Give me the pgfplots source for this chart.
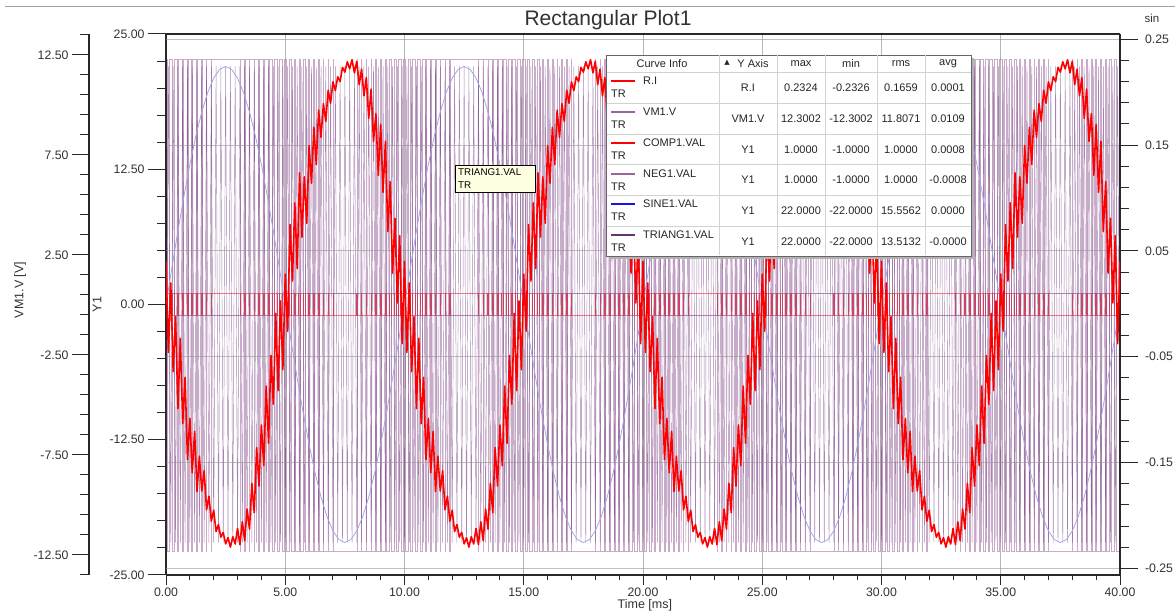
\documentclass[border=0pt]{standalone}
\usepackage{fontspec}
\setmainfont{Liberation Sans}
\newfontfamily\symbolfont{DejaVu Sans}
\usepackage{pgfplots}
\usepackage{pgfplotstable}
\pgfplotsset{compat=1.18}

\definecolor{curveRed}{RGB}{255,0,0}
\definecolor{vmMauve}{RGB}{156,100,156}
\definecolor{triPurple}{RGB}{104,52,120}
\definecolor{sineBlue}{RGB}{165,165,235}
\definecolor{compRed}{RGB}{225,40,60}
\definecolor{axisDark}{RGB}{40,40,40}
\definecolor{labelGray}{RGB}{50,50,50}
\definecolor{gridGray}{RGB}{150,150,150}
\definecolor{tipYellow}{RGB}{255,255,225}
\definecolor{legBlue}{RGB}{20,20,235}
\definecolor{legPurple}{RGB}{100,50,120}

% PWM edges: t, VM1.V, COMP1.VAL, NEG1.VAL (held until the next row)
\pgfplotstableread{
t vm comp neg
0.000 12.3 1 -1
0.050 -12.3 -1 1
0.144 12.3 1 -1
0.256 -12.3 -1 1
0.338 12.3 1 -1
0.462 -12.3 -1 1
0.532 12.3 1 -1
0.668 -12.3 -1 1
0.726 12.3 1 -1
0.874 -12.3 -1 1
0.921 12.3 1 -1
1.079 -12.3 -1 1
1.116 12.3 1 -1
1.284 -12.3 -1 1
1.311 12.3 1 -1
1.489 -12.3 -1 1
1.508 12.3 1 -1
1.692 -12.3 -1 1
1.705 12.3 1 -1
1.895 -12.3 -1 1
1.902 12.3 1 -1
3.098 -12.3 -1 1
3.105 12.3 1 -1
3.295 -12.3 -1 1
3.308 12.3 1 -1
3.492 -12.3 -1 1
3.511 12.3 1 -1
3.689 -12.3 -1 1
3.716 12.3 1 -1
3.884 -12.3 -1 1
3.921 12.3 1 -1
4.079 -12.3 -1 1
4.126 12.3 1 -1
4.274 -12.3 -1 1
4.332 12.3 1 -1
4.468 -12.3 -1 1
4.538 12.3 1 -1
4.662 -12.3 -1 1
4.744 12.3 1 -1
4.856 -12.3 -1 1
4.950 12.3 1 -1
5.050 -12.3 -1 1
5.156 12.3 1 -1
5.244 -12.3 -1 1
5.362 12.3 1 -1
5.438 -12.3 -1 1
5.568 12.3 1 -1
5.632 -12.3 -1 1
5.774 12.3 1 -1
5.826 -12.3 -1 1
5.979 12.3 1 -1
6.021 -12.3 -1 1
6.184 12.3 1 -1
6.216 -12.3 -1 1
6.389 12.3 1 -1
6.411 -12.3 -1 1
6.592 12.3 1 -1
6.608 -12.3 -1 1
6.795 12.3 1 -1
6.805 -12.3 -1 1
6.998 12.3 1 -1
7.002 -12.3 -1 1
7.998 12.3 1 -1
8.002 -12.3 -1 1
8.195 12.3 1 -1
8.205 -12.3 -1 1
8.392 12.3 1 -1
8.408 -12.3 -1 1
8.589 12.3 1 -1
8.611 -12.3 -1 1
8.784 12.3 1 -1
8.816 -12.3 -1 1
8.979 12.3 1 -1
9.021 -12.3 -1 1
9.174 12.3 1 -1
9.226 -12.3 -1 1
9.368 12.3 1 -1
9.432 -12.3 -1 1
9.562 12.3 1 -1
9.638 -12.3 -1 1
9.756 12.3 1 -1
9.844 -12.3 -1 1
9.950 12.3 1 -1
10.050 -12.3 -1 1
10.144 12.3 1 -1
10.256 -12.3 -1 1
10.338 12.3 1 -1
10.462 -12.3 -1 1
10.532 12.3 1 -1
10.668 -12.3 -1 1
10.726 12.3 1 -1
10.874 -12.3 -1 1
10.921 12.3 1 -1
11.079 -12.3 -1 1
11.116 12.3 1 -1
11.284 -12.3 -1 1
11.311 12.3 1 -1
11.489 -12.3 -1 1
11.508 12.3 1 -1
11.692 -12.3 -1 1
11.705 12.3 1 -1
11.895 -12.3 -1 1
11.902 12.3 1 -1
13.098 -12.3 -1 1
13.105 12.3 1 -1
13.295 -12.3 -1 1
13.308 12.3 1 -1
13.492 -12.3 -1 1
13.511 12.3 1 -1
13.689 -12.3 -1 1
13.716 12.3 1 -1
13.884 -12.3 -1 1
13.921 12.3 1 -1
14.079 -12.3 -1 1
14.126 12.3 1 -1
14.274 -12.3 -1 1
14.332 12.3 1 -1
14.468 -12.3 -1 1
14.538 12.3 1 -1
14.662 -12.3 -1 1
14.744 12.3 1 -1
14.856 -12.3 -1 1
14.950 12.3 1 -1
15.050 -12.3 -1 1
15.156 12.3 1 -1
15.244 -12.3 -1 1
15.362 12.3 1 -1
15.438 -12.3 -1 1
15.568 12.3 1 -1
15.632 -12.3 -1 1
15.774 12.3 1 -1
15.826 -12.3 -1 1
15.979 12.3 1 -1
16.021 -12.3 -1 1
16.184 12.3 1 -1
16.216 -12.3 -1 1
16.389 12.3 1 -1
16.411 -12.3 -1 1
16.592 12.3 1 -1
16.608 -12.3 -1 1
16.795 12.3 1 -1
16.805 -12.3 -1 1
16.998 12.3 1 -1
17.002 -12.3 -1 1
17.998 12.3 1 -1
18.002 -12.3 -1 1
18.195 12.3 1 -1
18.205 -12.3 -1 1
18.392 12.3 1 -1
18.408 -12.3 -1 1
18.589 12.3 1 -1
18.611 -12.3 -1 1
18.784 12.3 1 -1
18.816 -12.3 -1 1
18.979 12.3 1 -1
19.021 -12.3 -1 1
19.174 12.3 1 -1
19.226 -12.3 -1 1
19.368 12.3 1 -1
19.432 -12.3 -1 1
19.562 12.3 1 -1
19.638 -12.3 -1 1
19.756 12.3 1 -1
19.844 -12.3 -1 1
19.950 12.3 1 -1
20.050 -12.3 -1 1
20.144 12.3 1 -1
20.256 -12.3 -1 1
20.338 12.3 1 -1
20.462 -12.3 -1 1
20.532 12.3 1 -1
20.668 -12.3 -1 1
20.726 12.3 1 -1
20.874 -12.3 -1 1
20.921 12.3 1 -1
21.079 -12.3 -1 1
21.116 12.3 1 -1
21.284 -12.3 -1 1
21.311 12.3 1 -1
21.489 -12.3 -1 1
21.508 12.3 1 -1
21.692 -12.3 -1 1
21.705 12.3 1 -1
21.895 -12.3 -1 1
21.902 12.3 1 -1
23.098 -12.3 -1 1
23.105 12.3 1 -1
23.295 -12.3 -1 1
23.308 12.3 1 -1
23.492 -12.3 -1 1
23.511 12.3 1 -1
23.689 -12.3 -1 1
23.716 12.3 1 -1
23.884 -12.3 -1 1
23.921 12.3 1 -1
24.079 -12.3 -1 1
24.126 12.3 1 -1
24.274 -12.3 -1 1
24.332 12.3 1 -1
24.468 -12.3 -1 1
24.538 12.3 1 -1
24.662 -12.3 -1 1
24.744 12.3 1 -1
24.856 -12.3 -1 1
24.950 12.3 1 -1
25.050 -12.3 -1 1
25.156 12.3 1 -1
25.244 -12.3 -1 1
25.362 12.3 1 -1
25.438 -12.3 -1 1
25.568 12.3 1 -1
25.632 -12.3 -1 1
25.774 12.3 1 -1
25.826 -12.3 -1 1
25.979 12.3 1 -1
26.021 -12.3 -1 1
26.184 12.3 1 -1
26.216 -12.3 -1 1
26.389 12.3 1 -1
26.411 -12.3 -1 1
26.592 12.3 1 -1
26.608 -12.3 -1 1
26.795 12.3 1 -1
26.805 -12.3 -1 1
26.998 12.3 1 -1
27.002 -12.3 -1 1
27.998 12.3 1 -1
28.002 -12.3 -1 1
28.195 12.3 1 -1
28.205 -12.3 -1 1
28.392 12.3 1 -1
28.408 -12.3 -1 1
28.589 12.3 1 -1
28.611 -12.3 -1 1
28.784 12.3 1 -1
28.816 -12.3 -1 1
28.979 12.3 1 -1
29.021 -12.3 -1 1
29.174 12.3 1 -1
29.226 -12.3 -1 1
29.368 12.3 1 -1
29.432 -12.3 -1 1
29.562 12.3 1 -1
29.638 -12.3 -1 1
29.756 12.3 1 -1
29.844 -12.3 -1 1
29.950 12.3 1 -1
30.050 -12.3 -1 1
30.144 12.3 1 -1
30.256 -12.3 -1 1
30.338 12.3 1 -1
30.462 -12.3 -1 1
30.532 12.3 1 -1
30.668 -12.3 -1 1
30.726 12.3 1 -1
30.874 -12.3 -1 1
30.921 12.3 1 -1
31.079 -12.3 -1 1
31.116 12.3 1 -1
31.284 -12.3 -1 1
31.311 12.3 1 -1
31.489 -12.3 -1 1
31.508 12.3 1 -1
31.692 -12.3 -1 1
31.705 12.3 1 -1
31.895 -12.3 -1 1
31.902 12.3 1 -1
33.098 -12.3 -1 1
33.105 12.3 1 -1
33.295 -12.3 -1 1
33.308 12.3 1 -1
33.492 -12.3 -1 1
33.511 12.3 1 -1
33.689 -12.3 -1 1
33.716 12.3 1 -1
33.884 -12.3 -1 1
33.921 12.3 1 -1
34.079 -12.3 -1 1
34.126 12.3 1 -1
34.274 -12.3 -1 1
34.332 12.3 1 -1
34.468 -12.3 -1 1
34.538 12.3 1 -1
34.662 -12.3 -1 1
34.744 12.3 1 -1
34.856 -12.3 -1 1
34.950 12.3 1 -1
35.050 -12.3 -1 1
35.156 12.3 1 -1
35.244 -12.3 -1 1
35.362 12.3 1 -1
35.438 -12.3 -1 1
35.568 12.3 1 -1
35.632 -12.3 -1 1
35.774 12.3 1 -1
35.826 -12.3 -1 1
35.979 12.3 1 -1
36.021 -12.3 -1 1
36.184 12.3 1 -1
36.216 -12.3 -1 1
36.389 12.3 1 -1
36.411 -12.3 -1 1
36.592 12.3 1 -1
36.608 -12.3 -1 1
36.795 12.3 1 -1
36.805 -12.3 -1 1
36.998 12.3 1 -1
37.002 -12.3 -1 1
37.998 12.3 1 -1
38.002 -12.3 -1 1
38.195 12.3 1 -1
38.205 -12.3 -1 1
38.392 12.3 1 -1
38.408 -12.3 -1 1
38.589 12.3 1 -1
38.611 -12.3 -1 1
38.784 12.3 1 -1
38.816 -12.3 -1 1
38.979 12.3 1 -1
39.021 -12.3 -1 1
39.174 12.3 1 -1
39.226 -12.3 -1 1
39.368 12.3 1 -1
39.432 -12.3 -1 1
39.562 12.3 1 -1
39.638 -12.3 -1 1
39.756 12.3 1 -1
39.844 -12.3 -1 1
39.950 12.3 1 -1
40.000 12.3 1 -1
}\pwmtable

\tikzset{axislabel/.style={font=\fontsize{12.5}{14}\selectfont, text=labelGray}}

\pgfplotsset{
  plotframe/.style={
    scale only axis, width=954pt, height=541pt,
    at={(166pt,37pt)}, anchor=south west,
    xmin=0, xmax=40, clip=true,
    tick align=outside,
    axis line style={axisDark, line width=1.1pt},
    tick style={axisDark, line width=1pt},
    tick label style={font=\fontsize{12.3}{14}\selectfont, text=labelGray},
  },
}

\newcommand{\legrow}[8]{%
  \draw[#2, line width=2pt] (611,#1+9.5) -- (635,#1+9.5);
  \node[anchor=west, inner sep=0] at (643,#1+9) {#3};
  \node[anchor=west, inner sep=0] at (611,#1+22) {TR};
  \node at (748,#1+15.5) {#4};
  \node at (801,#1+15.5) {#5};
  \node at (851,#1+15.5) {#6};
  \node at (901,#1+15.5) {#7};
  \node at (948,#1+15.5) {#8};
}

\begin{document}
\begin{tikzpicture}
\path[use as bounding box] (0,0) rectangle (1175pt,612pt);
\clip (0,0) rectangle (1175pt,612pt);

% time axis with vertical grid
\begin{axis}[plotframe, ymin=0, ymax=1,
  axis x line*=bottom, axis y line=none,
  xtick={0,5,...,40},
  xticklabels={0.00,5.00,10.00,15.00,20.00,25.00,30.00,35.00,40.00},
  xticklabel style={yshift=1pt},
  minor x tick num=4,
  major tick length=10pt, minor tick length=5pt,
  xmajorgrids, major grid style={gridGray!70, line width=0.8pt},
  xlabel={Time [ms]},
  every axis x label/.style={axislabel, at={(axis description cs:0.502,0)}, anchor=center, yshift=-30.5pt},
]
\end{axis}

% VM1.V on its own scale
\begin{axis}[plotframe, ymin=-13.5, ymax=13.55,
  axis x line=none, axis y line*=left, axis y line shift=77pt,
  ytick={-12.5,-7.5,-2.5,2.5,7.5,12.5},
  yticklabels={-12.50,-7.50,-2.50,2.50,7.50,12.50},
  minor ytick={-13.5,-11.5,-10.5,-9.5,-8.5,-6.5,-5.5,-4.5,-3.5,-1.5,-0.5,0.5,1.5,3.5,4.5,5.5,6.5,8.5,9.5,10.5,11.5,13.5},
  major tick length=17pt, minor tick length=9pt,
  ylabel={VM1.V [V]},
  every axis y label/.style={axislabel, at={(axis description cs:-0.153,0.527)}, rotate=90, anchor=center},
]
\addplot[const plot, vmMauve, line width=0.5pt, opacity=0.55] table[x=t, y=vm] {\pwmtable};
\end{axis}

% Y1 quantities
\begin{axis}[plotframe, ymin=-25, ymax=25,
  axis x line=none, axis y line*=left,
  ytick={-25,-12.5,0,12.5,25},
  yticklabels={-25.00,-12.50,0.00,12.50,25.00},
  minor y tick num=4,
  major tick length=18pt, minor tick length=9pt,
  ylabel={Y1},
  every axis y label/.style={axislabel, at={(axis description cs:-0.0723,0.5)}, rotate=90, anchor=center},
]
% TRIANG1.VAL
\addplot[triPurple, line width=0.45pt, opacity=0.6] coordinates {
(0,-22)(0.1,22)(0.2,-22)(0.3,22)(0.4,-22)(0.5,22)(0.6,-22)(0.7,22)(0.8,-22)(0.9,22)
(1,-22)(1.1,22)(1.2,-22)(1.3,22)(1.4,-22)(1.5,22)(1.6,-22)(1.7,22)(1.8,-22)(1.9,22)
(2,-22)(2.1,22)(2.2,-22)(2.3,22)(2.4,-22)(2.5,22)(2.6,-22)(2.7,22)(2.8,-22)(2.9,22)
(3,-22)(3.1,22)(3.2,-22)(3.3,22)(3.4,-22)(3.5,22)(3.6,-22)(3.7,22)(3.8,-22)(3.9,22)
(4,-22)(4.1,22)(4.2,-22)(4.3,22)(4.4,-22)(4.5,22)(4.6,-22)(4.7,22)(4.8,-22)(4.9,22)
(5,-22)(5.1,22)(5.2,-22)(5.3,22)(5.4,-22)(5.5,22)(5.6,-22)(5.7,22)(5.8,-22)(5.9,22)
(6,-22)(6.1,22)(6.2,-22)(6.3,22)(6.4,-22)(6.5,22)(6.6,-22)(6.7,22)(6.8,-22)(6.9,22)
(7,-22)(7.1,22)(7.2,-22)(7.3,22)(7.4,-22)(7.5,22)(7.6,-22)(7.7,22)(7.8,-22)(7.9,22)
(8,-22)(8.1,22)(8.2,-22)(8.3,22)(8.4,-22)(8.5,22)(8.6,-22)(8.7,22)(8.8,-22)(8.9,22)
(9,-22)(9.1,22)(9.2,-22)(9.3,22)(9.4,-22)(9.5,22)(9.6,-22)(9.7,22)(9.8,-22)(9.9,22)
(10,-22)(10.1,22)(10.2,-22)(10.3,22)(10.4,-22)(10.5,22)(10.6,-22)(10.7,22)(10.8,-22)(10.9,22)
(11,-22)(11.1,22)(11.2,-22)(11.3,22)(11.4,-22)(11.5,22)(11.6,-22)(11.7,22)(11.8,-22)(11.9,22)
(12,-22)(12.1,22)(12.2,-22)(12.3,22)(12.4,-22)(12.5,22)(12.6,-22)(12.7,22)(12.8,-22)(12.9,22)
(13,-22)(13.1,22)(13.2,-22)(13.3,22)(13.4,-22)(13.5,22)(13.6,-22)(13.7,22)(13.8,-22)(13.9,22)
(14,-22)(14.1,22)(14.2,-22)(14.3,22)(14.4,-22)(14.5,22)(14.6,-22)(14.7,22)(14.8,-22)(14.9,22)
(15,-22)(15.1,22)(15.2,-22)(15.3,22)(15.4,-22)(15.5,22)(15.6,-22)(15.7,22)(15.8,-22)(15.9,22)
(16,-22)(16.1,22)(16.2,-22)(16.3,22)(16.4,-22)(16.5,22)(16.6,-22)(16.7,22)(16.8,-22)(16.9,22)
(17,-22)(17.1,22)(17.2,-22)(17.3,22)(17.4,-22)(17.5,22)(17.6,-22)(17.7,22)(17.8,-22)(17.9,22)
(18,-22)(18.1,22)(18.2,-22)(18.3,22)(18.4,-22)(18.5,22)(18.6,-22)(18.7,22)(18.8,-22)(18.9,22)
(19,-22)(19.1,22)(19.2,-22)(19.3,22)(19.4,-22)(19.5,22)(19.6,-22)(19.7,22)(19.8,-22)(19.9,22)
(20,-22)(20.1,22)(20.2,-22)(20.3,22)(20.4,-22)(20.5,22)(20.6,-22)(20.7,22)(20.8,-22)(20.9,22)
(21,-22)(21.1,22)(21.2,-22)(21.3,22)(21.4,-22)(21.5,22)(21.6,-22)(21.7,22)(21.8,-22)(21.9,22)
(22,-22)(22.1,22)(22.2,-22)(22.3,22)(22.4,-22)(22.5,22)(22.6,-22)(22.7,22)(22.8,-22)(22.9,22)
(23,-22)(23.1,22)(23.2,-22)(23.3,22)(23.4,-22)(23.5,22)(23.6,-22)(23.7,22)(23.8,-22)(23.9,22)
(24,-22)(24.1,22)(24.2,-22)(24.3,22)(24.4,-22)(24.5,22)(24.6,-22)(24.7,22)(24.8,-22)(24.9,22)
(25,-22)(25.1,22)(25.2,-22)(25.3,22)(25.4,-22)(25.5,22)(25.6,-22)(25.7,22)(25.8,-22)(25.9,22)
(26,-22)(26.1,22)(26.2,-22)(26.3,22)(26.4,-22)(26.5,22)(26.6,-22)(26.7,22)(26.8,-22)(26.9,22)
(27,-22)(27.1,22)(27.2,-22)(27.3,22)(27.4,-22)(27.5,22)(27.6,-22)(27.7,22)(27.8,-22)(27.9,22)
(28,-22)(28.1,22)(28.2,-22)(28.3,22)(28.4,-22)(28.5,22)(28.6,-22)(28.7,22)(28.8,-22)(28.9,22)
(29,-22)(29.1,22)(29.2,-22)(29.3,22)(29.4,-22)(29.5,22)(29.6,-22)(29.7,22)(29.8,-22)(29.9,22)
(30,-22)(30.1,22)(30.2,-22)(30.3,22)(30.4,-22)(30.5,22)(30.6,-22)(30.7,22)(30.8,-22)(30.9,22)
(31,-22)(31.1,22)(31.2,-22)(31.3,22)(31.4,-22)(31.5,22)(31.6,-22)(31.7,22)(31.8,-22)(31.9,22)
(32,-22)(32.1,22)(32.2,-22)(32.3,22)(32.4,-22)(32.5,22)(32.6,-22)(32.7,22)(32.8,-22)(32.9,22)
(33,-22)(33.1,22)(33.2,-22)(33.3,22)(33.4,-22)(33.5,22)(33.6,-22)(33.7,22)(33.8,-22)(33.9,22)
(34,-22)(34.1,22)(34.2,-22)(34.3,22)(34.4,-22)(34.5,22)(34.6,-22)(34.7,22)(34.8,-22)(34.9,22)
(35,-22)(35.1,22)(35.2,-22)(35.3,22)(35.4,-22)(35.5,22)(35.6,-22)(35.7,22)(35.8,-22)(35.9,22)
(36,-22)(36.1,22)(36.2,-22)(36.3,22)(36.4,-22)(36.5,22)(36.6,-22)(36.7,22)(36.8,-22)(36.9,22)
(37,-22)(37.1,22)(37.2,-22)(37.3,22)(37.4,-22)(37.5,22)(37.6,-22)(37.7,22)(37.8,-22)(37.9,22)
(38,-22)(38.1,22)(38.2,-22)(38.3,22)(38.4,-22)(38.5,22)(38.6,-22)(38.7,22)(38.8,-22)(38.9,22)
(39,-22)(39.1,22)(39.2,-22)(39.3,22)(39.4,-22)(39.5,22)(39.6,-22)(39.7,22)(39.8,-22)(39.9,22)
(40,-22)
};
% NEG1.VAL and COMP1.VAL
\addplot[const plot, vmMauve, line width=0.6pt, opacity=0.8] table[x=t, y=neg] {\pwmtable};
\addplot[const plot, compRed, line width=0.6pt, opacity=0.6] table[x=t, y=comp] {\pwmtable};
% SINE1.VAL
\addplot[sineBlue, line width=0.8pt] coordinates {
(0,0)(0.25,3.442)(0.5,6.798)(0.75,9.988)(1,12.931)(1.25,15.556)(1.5,17.798)(1.75,19.602)(2,20.923)(2.25,21.729)
(2.5,22)(2.75,21.729)(3,20.923)(3.25,19.602)(3.5,17.798)(3.75,15.556)(4,12.931)(4.25,9.988)(4.5,6.798)(4.75,3.442)
(5,0)(5.25,-3.442)(5.5,-6.798)(5.75,-9.988)(6,-12.931)(6.25,-15.556)(6.5,-17.798)(6.75,-19.602)(7,-20.923)(7.25,-21.729)
(7.5,-22)(7.75,-21.729)(8,-20.923)(8.25,-19.602)(8.5,-17.798)(8.75,-15.556)(9,-12.931)(9.25,-9.988)(9.5,-6.798)(9.75,-3.442)
(10,0)(10.25,3.442)(10.5,6.798)(10.75,9.988)(11,12.931)(11.25,15.556)(11.5,17.798)(11.75,19.602)(12,20.923)(12.25,21.729)
(12.5,22)(12.75,21.729)(13,20.923)(13.25,19.602)(13.5,17.798)(13.75,15.556)(14,12.931)(14.25,9.988)(14.5,6.798)(14.75,3.442)
(15,0)(15.25,-3.442)(15.5,-6.798)(15.75,-9.988)(16,-12.931)(16.25,-15.556)(16.5,-17.798)(16.75,-19.602)(17,-20.923)(17.25,-21.729)
(17.5,-22)(17.75,-21.729)(18,-20.923)(18.25,-19.602)(18.5,-17.798)(18.75,-15.556)(19,-12.931)(19.25,-9.988)(19.5,-6.798)(19.75,-3.442)
(20,0)(20.25,3.442)(20.5,6.798)(20.75,9.988)(21,12.931)(21.25,15.556)(21.5,17.798)(21.75,19.602)(22,20.923)(22.25,21.729)
(22.5,22)(22.75,21.729)(23,20.923)(23.25,19.602)(23.5,17.798)(23.75,15.556)(24,12.931)(24.25,9.988)(24.5,6.798)(24.75,3.442)
(25,0)(25.25,-3.442)(25.5,-6.798)(25.75,-9.988)(26,-12.931)(26.25,-15.556)(26.5,-17.798)(26.75,-19.602)(27,-20.923)(27.25,-21.729)
(27.5,-22)(27.75,-21.729)(28,-20.923)(28.25,-19.602)(28.5,-17.798)(28.75,-15.556)(29,-12.931)(29.25,-9.988)(29.5,-6.798)(29.75,-3.442)
(30,0)(30.25,3.442)(30.5,6.798)(30.75,9.988)(31,12.931)(31.25,15.556)(31.5,17.798)(31.75,19.602)(32,20.923)(32.25,21.729)
(32.5,22)(32.75,21.729)(33,20.923)(33.25,19.602)(33.5,17.798)(33.75,15.556)(34,12.931)(34.25,9.988)(34.5,6.798)(34.75,3.442)
(35,0)(35.25,-3.442)(35.5,-6.798)(35.75,-9.988)(36,-12.931)(36.25,-15.556)(36.5,-17.798)(36.75,-19.602)(37,-20.923)(37.25,-21.729)
(37.5,-22)(37.75,-21.729)(38,-20.923)(38.25,-19.602)(38.5,-17.798)(38.75,-15.556)(39,-12.931)(39.25,-9.988)(39.5,-6.798)(39.75,-3.442)
(40,0)
};
\end{axis}

% R.I on the right-hand scale, with the horizontal grid
\begin{axis}[plotframe, ymin=-0.2563, ymax=0.2550,
  axis x line*=top, axis y line*=right, xtick=\empty,
  ytick={-0.25,-0.15,-0.05,0.05,0.15,0.25},
  yticklabels={-0.25,-0.15,-0.05,0.05,0.15,0.25},
  yticklabel style={xshift=3.5pt},
  minor y tick num=4,
  major tick length=18pt, minor tick length=9pt,
  ymajorgrids, major grid style={gridGray, opacity=0.6, line width=0.8pt},
]
\addplot[curveRed, line width=1.6pt, line join=round] coordinates {
(0.0,0.0400)(0.1,-0.0459)(0.2,0.0197)(0.3,-0.0641)(0.4,-0.0122)(0.5,-0.0991)(0.6,-0.0327)(0.7,-0.1133)(0.8,-0.0694)(0.9,-0.1473)
(1.0,-0.1082)(1.1,-0.1597)(1.2,-0.1205)(1.3,-0.1775)(1.4,-0.1440)(1.5,-0.1770)(1.6,-0.1577)(1.7,-0.1947)(1.8,-0.1819)(1.9,-0.2055)
(2.0,-0.1950)(2.1,-0.2152)(2.2,-0.2087)(2.3,-0.2206)(2.4,-0.2161)(2.5,-0.2269)(2.6,-0.2210)(2.7,-0.2300)(2.8,-0.2201)(2.9,-0.2270)
(3.0,-0.2122)(3.1,-0.2276)(3.2,-0.2060)(3.3,-0.2239)(3.4,-0.1939)(3.5,-0.2129)(3.6,-0.1696)(3.7,-0.1974)(3.8,-0.1359)(3.9,-0.1722)
(4.0,-0.1145)(4.1,-0.1530)(4.2,-0.0778)(4.3,-0.1319)(4.4,-0.0488)(4.5,-0.0948)(4.6,-0.0090)(4.7,-0.0821)(4.8,0.0027)(4.9,-0.0622)
(5.0,0.0280)(5.1,-0.0259)(5.2,0.0749)(5.3,0.0215)(5.4,0.0954)(5.5,0.0333)(5.6,0.1239)(5.7,0.0630)(5.8,0.1200)(5.9,0.0761)
(6.0,0.1496)(6.1,0.1140)(6.2,0.1667)(6.3,0.1315)(6.4,0.1831)(6.5,0.1574)(6.6,0.1892)(6.7,0.1724)(6.8,0.2019)(6.9,0.1895)
(7.0,0.2098)(7.1,0.2015)(7.2,0.2146)(7.3,0.2100)(7.4,0.2235)(7.5,0.2189)(7.6,0.2288)(7.7,0.2221)(7.8,0.2307)(7.9,0.2183)
(8.0,0.2292)(8.1,0.2071)(8.2,0.2218)(8.3,0.1966)(8.4,0.2139)(8.5,0.1752)(8.6,0.2030)(8.7,0.1535)(8.8,0.1798)(8.9,0.1214)
(9.0,0.1697)(9.1,0.1054)(9.2,0.1536)(9.3,0.0682)(9.4,0.1155)(9.5,0.0289)(9.6,0.0808)(9.7,0.0008)(9.8,0.0643)(9.9,-0.0376)
(10.0,0.0400)(10.1,-0.0459)(10.2,0.0197)(10.3,-0.0641)(10.4,-0.0122)(10.5,-0.0991)(10.6,-0.0327)(10.7,-0.1133)(10.8,-0.0694)(10.9,-0.1473)
(11.0,-0.1082)(11.1,-0.1597)(11.2,-0.1205)(11.3,-0.1775)(11.4,-0.1440)(11.5,-0.1770)(11.6,-0.1577)(11.7,-0.1947)(11.8,-0.1819)(11.9,-0.2055)
(12.0,-0.1950)(12.1,-0.2152)(12.2,-0.2087)(12.3,-0.2206)(12.4,-0.2161)(12.5,-0.2269)(12.6,-0.2210)(12.7,-0.2300)(12.8,-0.2201)(12.9,-0.2270)
(13.0,-0.2122)(13.1,-0.2276)(13.2,-0.2060)(13.3,-0.2239)(13.4,-0.1939)(13.5,-0.2129)(13.6,-0.1696)(13.7,-0.1974)(13.8,-0.1359)(13.9,-0.1722)
(14.0,-0.1145)(14.1,-0.1530)(14.2,-0.0778)(14.3,-0.1319)(14.4,-0.0488)(14.5,-0.0948)(14.6,-0.0090)(14.7,-0.0821)(14.8,0.0027)(14.9,-0.0622)
(15.0,0.0280)(15.1,-0.0259)(15.2,0.0749)(15.3,0.0215)(15.4,0.0954)(15.5,0.0333)(15.6,0.1239)(15.7,0.0630)(15.8,0.1200)(15.9,0.0761)
(16.0,0.1496)(16.1,0.1140)(16.2,0.1667)(16.3,0.1315)(16.4,0.1831)(16.5,0.1574)(16.6,0.1892)(16.7,0.1724)(16.8,0.2019)(16.9,0.1895)
(17.0,0.2098)(17.1,0.2015)(17.2,0.2146)(17.3,0.2100)(17.4,0.2235)(17.5,0.2189)(17.6,0.2288)(17.7,0.2221)(17.8,0.2307)(17.9,0.2183)
(18.0,0.2292)(18.1,0.2071)(18.2,0.2218)(18.3,0.1966)(18.4,0.2139)(18.5,0.1752)(18.6,0.2030)(18.7,0.1535)(18.8,0.1798)(18.9,0.1214)
(19.0,0.1697)(19.1,0.1054)(19.2,0.1536)(19.3,0.0682)(19.4,0.1155)(19.5,0.0289)(19.6,0.0808)(19.7,0.0008)(19.8,0.0643)(19.9,-0.0376)
(20.0,0.0400)(20.1,-0.0459)(20.2,0.0197)(20.3,-0.0641)(20.4,-0.0122)(20.5,-0.0991)(20.6,-0.0327)(20.7,-0.1133)(20.8,-0.0694)(20.9,-0.1473)
(21.0,-0.1082)(21.1,-0.1597)(21.2,-0.1205)(21.3,-0.1775)(21.4,-0.1440)(21.5,-0.1770)(21.6,-0.1577)(21.7,-0.1947)(21.8,-0.1819)(21.9,-0.2055)
(22.0,-0.1950)(22.1,-0.2152)(22.2,-0.2087)(22.3,-0.2206)(22.4,-0.2161)(22.5,-0.2269)(22.6,-0.2210)(22.7,-0.2300)(22.8,-0.2201)(22.9,-0.2270)
(23.0,-0.2122)(23.1,-0.2276)(23.2,-0.2060)(23.3,-0.2239)(23.4,-0.1939)(23.5,-0.2129)(23.6,-0.1696)(23.7,-0.1974)(23.8,-0.1359)(23.9,-0.1722)
(24.0,-0.1145)(24.1,-0.1530)(24.2,-0.0778)(24.3,-0.1319)(24.4,-0.0488)(24.5,-0.0948)(24.6,-0.0090)(24.7,-0.0821)(24.8,0.0027)(24.9,-0.0622)
(25.0,0.0280)(25.1,-0.0259)(25.2,0.0749)(25.3,0.0215)(25.4,0.0954)(25.5,0.0333)(25.6,0.1239)(25.7,0.0630)(25.8,0.1200)(25.9,0.0761)
(26.0,0.1496)(26.1,0.1140)(26.2,0.1667)(26.3,0.1315)(26.4,0.1831)(26.5,0.1574)(26.6,0.1892)(26.7,0.1724)(26.8,0.2019)(26.9,0.1895)
(27.0,0.2098)(27.1,0.2015)(27.2,0.2146)(27.3,0.2100)(27.4,0.2235)(27.5,0.2189)(27.6,0.2288)(27.7,0.2221)(27.8,0.2307)(27.9,0.2183)
(28.0,0.2292)(28.1,0.2071)(28.2,0.2218)(28.3,0.1966)(28.4,0.2139)(28.5,0.1752)(28.6,0.2030)(28.7,0.1535)(28.8,0.1798)(28.9,0.1214)
(29.0,0.1697)(29.1,0.1054)(29.2,0.1536)(29.3,0.0682)(29.4,0.1155)(29.5,0.0289)(29.6,0.0808)(29.7,0.0008)(29.8,0.0643)(29.9,-0.0376)
(30.0,0.0400)(30.1,-0.0459)(30.2,0.0197)(30.3,-0.0641)(30.4,-0.0122)(30.5,-0.0991)(30.6,-0.0327)(30.7,-0.1133)(30.8,-0.0694)(30.9,-0.1473)
(31.0,-0.1082)(31.1,-0.1597)(31.2,-0.1205)(31.3,-0.1775)(31.4,-0.1440)(31.5,-0.1770)(31.6,-0.1577)(31.7,-0.1947)(31.8,-0.1819)(31.9,-0.2055)
(32.0,-0.1950)(32.1,-0.2152)(32.2,-0.2087)(32.3,-0.2206)(32.4,-0.2161)(32.5,-0.2269)(32.6,-0.2210)(32.7,-0.2300)(32.8,-0.2201)(32.9,-0.2270)
(33.0,-0.2122)(33.1,-0.2276)(33.2,-0.2060)(33.3,-0.2239)(33.4,-0.1939)(33.5,-0.2129)(33.6,-0.1696)(33.7,-0.1974)(33.8,-0.1359)(33.9,-0.1722)
(34.0,-0.1145)(34.1,-0.1530)(34.2,-0.0778)(34.3,-0.1319)(34.4,-0.0488)(34.5,-0.0948)(34.6,-0.0090)(34.7,-0.0821)(34.8,0.0027)(34.9,-0.0622)
(35.0,0.0280)(35.1,-0.0259)(35.2,0.0749)(35.3,0.0215)(35.4,0.0954)(35.5,0.0333)(35.6,0.1239)(35.7,0.0630)(35.8,0.1200)(35.9,0.0761)
(36.0,0.1496)(36.1,0.1140)(36.2,0.1667)(36.3,0.1315)(36.4,0.1831)(36.5,0.1574)(36.6,0.1892)(36.7,0.1724)(36.8,0.2019)(36.9,0.1895)
(37.0,0.2098)(37.1,0.2015)(37.2,0.2146)(37.3,0.2100)(37.4,0.2235)(37.5,0.2189)(37.6,0.2288)(37.7,0.2221)(37.8,0.2307)(37.9,0.2183)
(38.0,0.2292)(38.1,0.2071)(38.2,0.2218)(38.3,0.1966)(38.4,0.2139)(38.5,0.1752)(38.6,0.2030)(38.7,0.1535)(38.8,0.1798)(38.9,0.1214)
(39.0,0.1697)(39.1,0.1054)(39.2,0.1536)(39.3,0.0682)(39.4,0.1155)(39.5,0.0289)(39.6,0.0808)(39.7,0.0008)(39.8,0.0643)(39.9,-0.0376)
(40.0,0.0400)
};
\end{axis}

% title, tooltip and curve-info table, placed in pixel units from the top-left corner
\begin{scope}[x=1pt, y=-1pt, shift={(0pt,612pt)}]
  \draw[gray!75, line width=1pt] (5,6.5) -- (1175,6.5);
  \node[font=\fontsize{21}{24}\selectfont, text=labelGray] at (608,20) {Rectangular Plot1};
  \node[font=\fontsize{11.5}{13}\selectfont, text=labelGray] at (1152,18) {sin};

  \draw[fill=tipYellow, line width=0.8pt] (455,165) rectangle (535,192);
  \node[anchor=west, inner sep=0, font=\fontsize{9.8}{11}\selectfont] at (458,172) {TRIANG1.VAL};
  \node[anchor=west, inner sep=0, font=\fontsize{9.8}{11}\selectfont] at (458,185) {TR};

  \fill[gray!60] (609,58) rectangle (974,259);
  \draw[fill=white, draw=gray!80!black, line width=0.8pt] (606,55) rectangle (971,256);
  \foreach \yy in {72,103,134,164,195,226}
    \draw[gray!35, line width=0.7pt] (606.5,\yy) -- (970.5,\yy);
  \foreach \xx in {719,777,825,877,925}
    \draw[gray!35, line width=0.7pt] (\xx,55.5) -- (\xx,255.5);
  \begin{scope}[every node/.style={font=\fontsize{11}{13}\selectfont, text=black!85}]
    \node at (662,63.5) {Curve Info};
    \node[font=\symbolfont\fontsize{7}{8}\selectfont] at (727,63) {▲};
    \node at (753,63.5) {Y Axis};
    \node at (801,63.5) {max};
    \node at (851,63.5) {min};
    \node at (901,63.5) {rms};
    \node at (948,63.5) {avg};
    \legrow{72}{curveRed}{R.I}{R.I}{0.2324}{-0.2326}{0.1659}{0.0001}
    \legrow{103}{vmMauve}{VM1.V}{VM1.V}{12.3002}{-12.3002}{11.8071}{0.0109}
    \legrow{134}{curveRed}{COMP1.VAL}{Y1}{1.0000}{-1.0000}{1.0000}{0.0008}
    \legrow{164.5}{vmMauve}{NEG1.VAL}{Y1}{1.0000}{-1.0000}{1.0000}{-0.0008}
    \legrow{195}{legBlue}{SINE1.VAL}{Y1}{22.0000}{-22.0000}{15.5562}{0.0000}
    \legrow{226}{legPurple}{TRIANG1.VAL}{Y1}{22.0000}{-22.0000}{13.5132}{-0.0000}
  \end{scope}
\end{scope}
\end{tikzpicture}
\end{document}
